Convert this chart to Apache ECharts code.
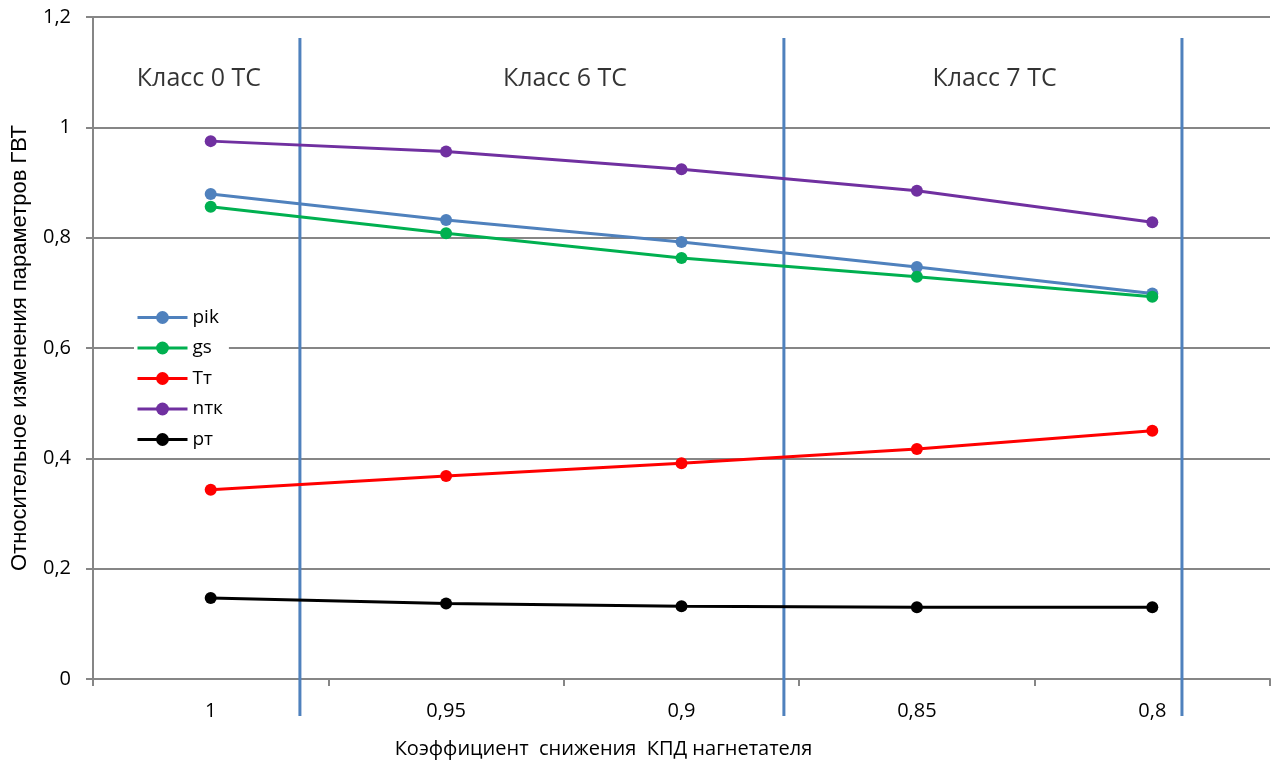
<!DOCTYPE html>
<html>
<head>
<meta charset="utf-8">
<script src="https://cdn.jsdelivr.net/npm/echarts@6/dist/echarts.min.js"></script>
<style>
  html, body { margin: 0; padding: 0; background: #fff; }
  #chart { width: 1274px; height: 762px; }
</style>
</head>
<body>
<div id="chart"></div>
<script>
// Efficiency reduction coefficient of the blower (category axis)
const categories = ['1', '0,95', '0,9', '0,85', '0,8'];

// Relative change of gas-turbine parameters
const pik = [0.879, 0.832, 0.792, 0.747, 0.699];
const gs  = [0.856, 0.808, 0.763, 0.729, 0.693];
const Tt  = [0.343, 0.368, 0.391, 0.417, 0.450];
const ntk = [0.975, 0.956, 0.924, 0.885, 0.828];
const pt  = [0.147, 0.137, 0.132, 0.130, 0.130];

// Class zones: divider positions and labels (in category-width units from the left edge)
const dividers = [0.879, 2.935, 4.626];
const zoneLabels = ['Класс 0 ТС', 'Класс 6 ТС', 'Класс 7 ТС'];
const zoneLabelX = [0.45, 2.005, 3.83];
const zoneLabelY = 1.0875;
const dividerTop = 1.162;
const dividerBottom = -0.067;

const font = '"Open Sans", "Liberation Sans", sans-serif';
const nameFont = '"Liberation Sans", Arial, sans-serif';
const comma = v => String(v).replace('.', ',');

function lineSeries(name, data, color) {
  return {
    name: name,
    type: 'line',
    data: data,
    symbol: 'circle',
    symbolSize: 12,
    lineStyle: { width: 3, color: color },
    itemStyle: { color: color },
    z: 5
  };
}

const series = [
  lineSeries('pik', pik, '#4F81BD'),
  lineSeries('gs', gs, '#00B050'),
  lineSeries('Tт', Tt, '#FF0000'),
  lineSeries('nтк', ntk, '#7030A0'),
  lineSeries('pт', pt, '#000000')
];

dividers.forEach((x, i) => {
  series.push({
    name: 'divider' + i,
    type: 'line',
    xAxisIndex: 1,
    data: [[x, dividerTop], [x, dividerBottom]],
    symbol: 'none',
    clip: false,
    silent: true,
    lineStyle: { width: 3, color: '#4F81BD' },
    z: 4
  });
});

series.push({
  name: 'zones',
  type: 'scatter',
  xAxisIndex: 1,
  symbolSize: 0,
  silent: true,
  data: zoneLabels.map((t, i) => [zoneLabelX[i], zoneLabelY, t]),
  label: {
    show: true,
    position: 'inside',
    formatter: p => p.data[2],
    color: '#000',
    fontSize: 25,
    fontFamily: font
  }
});

const chart = echarts.init(document.getElementById('chart'));
chart.setOption({
  animation: false,
  backgroundColor: '#fff',
  grid: { left: 93, right: 4, top: 17, bottom: 83, containLabel: false, outerBoundsMode: 'none' },
  legend: {
    data: ['pik', 'gs', 'Tт', 'nтк', 'pт'],
    orient: 'vertical',
    left: 134,
    top: 306,
    itemWidth: 50,
    itemHeight: 16,
    itemGap: 11.5,
    backgroundColor: '#fff',
    padding: [2, 6, 2, 2],
    lineStyle: { width: 3 },
    textStyle: { fontSize: 19, fontFamily: font, color: '#000' }
  },
  xAxis: [{
    type: 'category',
    data: categories,
    boundaryGap: true,
    axisLine: { lineStyle: { color: '#868686', width: 2 } },
    axisTick: { show: true, length: 7, lineStyle: { color: '#868686', width: 2 } },
    axisLabel: { margin: 22, fontSize: 20, fontFamily: font, color: '#000' },
    name: 'Коэффициент  снижения  КПД нагнетателя',
    nameLocation: 'middle',
    nameGap: 60,
    nameTextStyle: { fontSize: 20, fontFamily: font, color: '#000', padding: [0, 156, 0, 0] }
  }, {
    type: 'value',
    min: 0,
    max: 5,
    show: false
  }],
  yAxis: {
    type: 'value',
    min: 0,
    max: 1.2,
    interval: 0.2,
    axisLine: { show: true, lineStyle: { color: '#868686', width: 2 } },
    axisTick: { show: true, length: 7, lineStyle: { color: '#868686', width: 2 } },
    splitLine: { lineStyle: { color: '#868686', width: 2 } },
    axisLabel: {
      margin: 22,
      fontSize: 20,
      fontFamily: font,
      color: '#000',
      formatter: v => comma(+v.toFixed(1))
    },
    name: 'Относительное изменения параметров ГВТ',
    nameLocation: 'middle',
    nameGap: 62,
    nameTextStyle: { fontSize: 22, fontFamily: nameFont, color: '#000' }
  },
  series: series
});
</script>
</body>
</html>
